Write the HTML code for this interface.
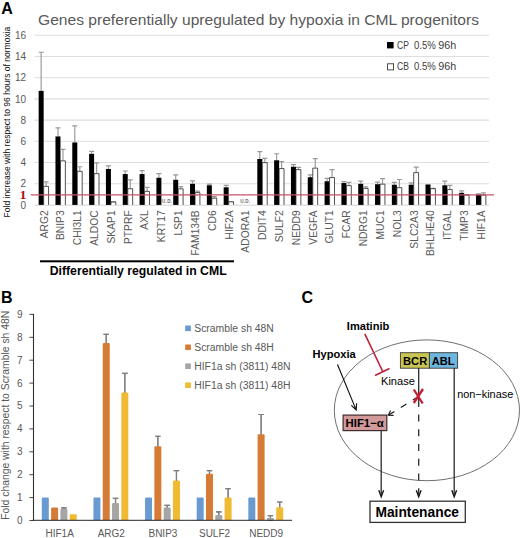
<!DOCTYPE html>
<html><head><meta charset="utf-8"><title>Figure</title>
<style>
html,body{margin:0;padding:0;background:#fff;}
body{width:520px;height:538px;overflow:hidden;font-family:"Liberation Sans",sans-serif;}
svg{display:block;font-family:"Liberation Sans",sans-serif;}
</style></head><body>
<svg width="520" height="538" viewBox="0 0 520 538">
<rect width="520" height="538" fill="#fff"/>
<g id="panelA">
<line x1="34.5" x2="489" y1="205.20" y2="205.20" stroke="#cfcfcf" stroke-width="0.9"/>
<line x1="34.5" x2="489" y1="183.70" y2="183.70" stroke="#dedede" stroke-width="1.1"/>
<line x1="34.5" x2="489" y1="162.50" y2="162.50" stroke="#dedede" stroke-width="1.1"/>
<line x1="34.5" x2="489" y1="141.30" y2="141.30" stroke="#dedede" stroke-width="1.1"/>
<line x1="34.5" x2="489" y1="120.10" y2="120.10" stroke="#dedede" stroke-width="1.1"/>
<line x1="34.5" x2="489" y1="98.90" y2="98.90" stroke="#dedede" stroke-width="1.1"/>
<line x1="34.5" x2="489" y1="77.70" y2="77.70" stroke="#dedede" stroke-width="1.1"/>
<line x1="34.5" x2="489" y1="56.50" y2="56.50" stroke="#dedede" stroke-width="1.1"/>
<line x1="34.5" x2="489" y1="35.30" y2="35.30" stroke="#dedede" stroke-width="1.1"/>
<text transform="translate(26.10 208.55) scale(1 1)" text-anchor="end" font-size="10" fill="#595959">0</text>
<text transform="translate(26.10 187.35) scale(1 1)" text-anchor="end" font-size="10" fill="#595959">2</text>
<text transform="translate(26.10 166.15) scale(1 1)" text-anchor="end" font-size="10" fill="#595959">4</text>
<text transform="translate(26.10 144.95) scale(1 1)" text-anchor="end" font-size="10" fill="#595959">6</text>
<text transform="translate(26.10 123.75) scale(1 1)" text-anchor="end" font-size="10" fill="#595959">8</text>
<text transform="translate(26.10 102.55) scale(1 1)" text-anchor="end" font-size="10" fill="#595959">10</text>
<text transform="translate(26.10 81.35) scale(1 1)" text-anchor="end" font-size="10" fill="#595959">12</text>
<text transform="translate(26.10 60.15) scale(1 1)" text-anchor="end" font-size="10" fill="#595959">14</text>
<text transform="translate(26.10 38.95) scale(1 1)" text-anchor="end" font-size="10" fill="#595959">16</text>
<path d="M41.15 90.84V52.26M38.65 52.26h5" stroke="#999" stroke-width="1.15" fill="none"/>
<rect x="38.65" y="90.84" width="5.0" height="114.06" fill="#000"/>
<path d="M46.15 186.03V181.90M43.65 181.90h5" stroke="#999" stroke-width="1.15" fill="none"/>
<path d="M43.65 204.9V186.38H48.55V204.9" fill="#fff" stroke="#1a1a1a" stroke-width="0.75"/>
<text transform="translate(47.55 210.3) rotate(-90)" text-anchor="end" font-size="10.3" fill="#595959">ARG2</text>
<path d="M57.97 136.42V127.94M55.47 127.94h5" stroke="#999" stroke-width="1.15" fill="none"/>
<rect x="55.47" y="136.42" width="5.0" height="68.48" fill="#000"/>
<path d="M62.97 160.49V149.36M60.47 149.36h5" stroke="#999" stroke-width="1.15" fill="none"/>
<path d="M60.47 204.9V160.84H65.37V204.9" fill="#fff" stroke="#1a1a1a" stroke-width="0.75"/>
<text transform="translate(64.37 210.3) rotate(-90)" text-anchor="end" font-size="10.3" fill="#595959">BNIP3</text>
<path d="M74.79 142.47V125.93M72.29 125.93h5" stroke="#999" stroke-width="1.15" fill="none"/>
<rect x="72.29" y="142.47" width="5.0" height="62.43" fill="#000"/>
<path d="M79.79 170.98V166.74M77.29 166.74h5" stroke="#999" stroke-width="1.15" fill="none"/>
<path d="M77.29 204.9V171.33H82.19V204.9" fill="#fff" stroke="#1a1a1a" stroke-width="0.75"/>
<text transform="translate(81.19 210.3) rotate(-90)" text-anchor="end" font-size="10.3" fill="#595959">CHI3L1</text>
<path d="M91.61 153.81V151.37M89.11 151.37h5" stroke="#999" stroke-width="1.15" fill="none"/>
<rect x="89.11" y="153.81" width="5.0" height="51.09" fill="#000"/>
<path d="M96.61 173.31V162.92M94.11 162.92h5" stroke="#999" stroke-width="1.15" fill="none"/>
<path d="M94.11 204.9V173.66H99.01V204.9" fill="#fff" stroke="#1a1a1a" stroke-width="0.75"/>
<text transform="translate(98.01 210.3) rotate(-90)" text-anchor="end" font-size="10.3" fill="#595959">ALDOC</text>
<path d="M108.43 168.97V165.89M105.93 165.89h5" stroke="#999" stroke-width="1.15" fill="none"/>
<rect x="105.93" y="168.97" width="5.0" height="35.93" fill="#000"/>
<path d="M113.43 201.72V201.72M110.93 201.72h5" stroke="#999" stroke-width="1.15" fill="none"/>
<path d="M110.93 204.9V202.07H115.83V204.9" fill="#fff" stroke="#1a1a1a" stroke-width="0.75"/>
<text transform="translate(114.83 210.3) rotate(-90)" text-anchor="end" font-size="10.3" fill="#595959">SKAP1</text>
<path d="M125.25 174.05V170.98M122.75 170.98h5" stroke="#999" stroke-width="1.15" fill="none"/>
<rect x="122.75" y="174.05" width="5.0" height="30.85" fill="#000"/>
<path d="M130.25 188.36V179.88M127.75 179.88h5" stroke="#999" stroke-width="1.15" fill="none"/>
<path d="M127.75 204.9V188.71H132.65V204.9" fill="#fff" stroke="#1a1a1a" stroke-width="0.75"/>
<text transform="translate(131.65 210.3) rotate(-90)" text-anchor="end" font-size="10.3" fill="#595959">PTPRF</text>
<path d="M142.07 174.05V170.66M139.57 170.66h5" stroke="#999" stroke-width="1.15" fill="none"/>
<rect x="139.57" y="174.05" width="5.0" height="30.85" fill="#000"/>
<path d="M147.07 191.01V187.41M144.57 187.41h5" stroke="#999" stroke-width="1.15" fill="none"/>
<path d="M144.57 204.9V191.36H149.47V204.9" fill="#fff" stroke="#1a1a1a" stroke-width="0.75"/>
<text transform="translate(148.47 210.3) rotate(-90)" text-anchor="end" font-size="10.3" fill="#595959">AXL</text>
<path d="M158.89 177.76V173.63M156.39 173.63h5" stroke="#999" stroke-width="1.15" fill="none"/>
<rect x="156.39" y="177.76" width="5.0" height="27.14" fill="#000"/>
<text transform="translate(165.29 210.3) rotate(-90)" text-anchor="end" font-size="10.3" fill="#595959">KRT17</text>
<path d="M175.71 179.78V174.90M173.21 174.90h5" stroke="#999" stroke-width="1.15" fill="none"/>
<rect x="173.21" y="179.78" width="5.0" height="25.12" fill="#000"/>
<path d="M180.71 188.47V186.67M178.21 186.67h5" stroke="#999" stroke-width="1.15" fill="none"/>
<path d="M178.21 204.9V188.82H183.11V204.9" fill="#fff" stroke="#1a1a1a" stroke-width="0.75"/>
<text transform="translate(182.11 210.3) rotate(-90)" text-anchor="end" font-size="10.3" fill="#595959">LSP1</text>
<path d="M192.53 183.81V180.94M190.03 180.94h5" stroke="#999" stroke-width="1.15" fill="none"/>
<rect x="190.03" y="183.81" width="5.0" height="21.09" fill="#000"/>
<path d="M197.53 192.29V191.12M195.03 191.12h5" stroke="#999" stroke-width="1.15" fill="none"/>
<path d="M195.03 204.9V192.64H199.93V204.9" fill="#fff" stroke="#1a1a1a" stroke-width="0.75"/>
<text transform="translate(198.93 210.3) rotate(-90)" text-anchor="end" font-size="10.3" fill="#595959">FAM134B</text>
<path d="M209.35 185.29V184.12M206.85 184.12h5" stroke="#999" stroke-width="1.15" fill="none"/>
<rect x="206.85" y="185.29" width="5.0" height="19.61" fill="#000"/>
<path d="M214.35 197.80V196.63M211.85 196.63h5" stroke="#999" stroke-width="1.15" fill="none"/>
<path d="M211.85 204.9V198.15H216.75V204.9" fill="#fff" stroke="#1a1a1a" stroke-width="0.75"/>
<text transform="translate(215.75 210.3) rotate(-90)" text-anchor="end" font-size="10.3" fill="#595959">CD6</text>
<path d="M226.17 187.30V185.40M223.67 185.40h5" stroke="#999" stroke-width="1.15" fill="none"/>
<rect x="223.67" y="187.30" width="5.0" height="17.60" fill="#000"/>
<path d="M231.17 201.51V201.72M228.67 201.72h5" stroke="#999" stroke-width="1.15" fill="none"/>
<path d="M228.67 204.9V201.86H233.57V204.9" fill="#fff" stroke="#1a1a1a" stroke-width="0.75"/>
<text transform="translate(232.57 210.3) rotate(-90)" text-anchor="end" font-size="10.3" fill="#595959">HIF2A</text>
<text transform="translate(249.39 210.3) rotate(-90)" text-anchor="end" font-size="10.3" fill="#595959">ADORA1</text>
<path d="M259.81 159.00V151.69M257.31 151.69h5" stroke="#999" stroke-width="1.15" fill="none"/>
<rect x="257.31" y="159.00" width="5.0" height="45.90" fill="#000"/>
<path d="M264.81 162.29V158.37M262.31 158.37h5" stroke="#999" stroke-width="1.15" fill="none"/>
<path d="M262.31 204.9V162.64H267.21V204.9" fill="#fff" stroke="#1a1a1a" stroke-width="0.75"/>
<text transform="translate(266.21 210.3) rotate(-90)" text-anchor="end" font-size="10.3" fill="#595959">DDIT4</text>
<path d="M276.63 160.27V153.70M274.13 153.70h5" stroke="#999" stroke-width="1.15" fill="none"/>
<rect x="274.13" y="160.27" width="5.0" height="44.63" fill="#000"/>
<path d="M281.63 168.22V161.65M279.13 161.65h5" stroke="#999" stroke-width="1.15" fill="none"/>
<path d="M279.13 204.9V168.57H284.03V204.9" fill="#fff" stroke="#1a1a1a" stroke-width="0.75"/>
<text transform="translate(283.03 210.3) rotate(-90)" text-anchor="end" font-size="10.3" fill="#595959">SULF2</text>
<path d="M293.45 166.74V164.62M290.95 164.62h5" stroke="#999" stroke-width="1.15" fill="none"/>
<rect x="290.95" y="166.74" width="5.0" height="38.16" fill="#000"/>
<path d="M298.45 169.28V167.38M295.95 167.38h5" stroke="#999" stroke-width="1.15" fill="none"/>
<path d="M295.95 204.9V169.63H300.85V204.9" fill="#fff" stroke="#1a1a1a" stroke-width="0.75"/>
<text transform="translate(299.85 210.3) rotate(-90)" text-anchor="end" font-size="10.3" fill="#595959">NEDD9</text>
<path d="M310.27 177.23V174.90M307.77 174.90h5" stroke="#999" stroke-width="1.15" fill="none"/>
<rect x="307.77" y="177.23" width="5.0" height="27.67" fill="#000"/>
<path d="M315.27 167.80V158.68M312.77 158.68h5" stroke="#999" stroke-width="1.15" fill="none"/>
<path d="M312.77 204.9V168.15H317.67V204.9" fill="#fff" stroke="#1a1a1a" stroke-width="0.75"/>
<text transform="translate(316.67 210.3) rotate(-90)" text-anchor="end" font-size="10.3" fill="#595959">VEGFA</text>
<path d="M327.09 181.26V178.40M324.59 178.40h5" stroke="#999" stroke-width="1.15" fill="none"/>
<rect x="324.59" y="181.26" width="5.0" height="23.64" fill="#000"/>
<path d="M332.09 177.23V169.60M329.59 169.60h5" stroke="#999" stroke-width="1.15" fill="none"/>
<path d="M329.59 204.9V177.58H334.49V204.9" fill="#fff" stroke="#1a1a1a" stroke-width="0.75"/>
<text transform="translate(333.49 210.3) rotate(-90)" text-anchor="end" font-size="10.3" fill="#595959">GLUT1</text>
<path d="M343.91 183.06V181.69M341.41 181.69h5" stroke="#999" stroke-width="1.15" fill="none"/>
<rect x="341.41" y="183.06" width="5.0" height="21.84" fill="#000"/>
<path d="M348.91 185.29V182.43M346.41 182.43h5" stroke="#999" stroke-width="1.15" fill="none"/>
<path d="M346.41 204.9V185.64H351.31V204.9" fill="#fff" stroke="#1a1a1a" stroke-width="0.75"/>
<text transform="translate(350.31 210.3) rotate(-90)" text-anchor="end" font-size="10.3" fill="#595959">FCAR</text>
<path d="M360.73 183.81V181.16M358.23 181.16h5" stroke="#999" stroke-width="1.15" fill="none"/>
<rect x="358.23" y="183.81" width="5.0" height="21.09" fill="#000"/>
<path d="M365.73 188.05V186.88M363.23 186.88h5" stroke="#999" stroke-width="1.15" fill="none"/>
<path d="M363.23 204.9V188.40H368.13V204.9" fill="#fff" stroke="#1a1a1a" stroke-width="0.75"/>
<text transform="translate(367.13 210.3) rotate(-90)" text-anchor="end" font-size="10.3" fill="#595959">NDRG1</text>
<path d="M377.55 184.23V182.11M375.05 182.11h5" stroke="#999" stroke-width="1.15" fill="none"/>
<rect x="375.05" y="184.23" width="5.0" height="20.67" fill="#000"/>
<path d="M382.55 183.81V178.61M380.05 178.61h5" stroke="#999" stroke-width="1.15" fill="none"/>
<path d="M380.05 204.9V184.16H384.95V204.9" fill="#fff" stroke="#1a1a1a" stroke-width="0.75"/>
<text transform="translate(383.95 210.3) rotate(-90)" text-anchor="end" font-size="10.3" fill="#595959">MUC1</text>
<path d="M394.37 184.76V182.43M391.87 182.43h5" stroke="#999" stroke-width="1.15" fill="none"/>
<rect x="391.87" y="184.76" width="5.0" height="20.14" fill="#000"/>
<path d="M399.37 187.30V179.46M396.87 179.46h5" stroke="#999" stroke-width="1.15" fill="none"/>
<path d="M396.87 204.9V187.65H401.77V204.9" fill="#fff" stroke="#1a1a1a" stroke-width="0.75"/>
<text transform="translate(400.77 210.3) rotate(-90)" text-anchor="end" font-size="10.3" fill="#595959">NOL3</text>
<path d="M411.19 184.76V182.85M408.69 182.85h5" stroke="#999" stroke-width="1.15" fill="none"/>
<rect x="408.69" y="184.76" width="5.0" height="20.14" fill="#000"/>
<path d="M416.19 172.25V167.16M413.69 167.16h5" stroke="#999" stroke-width="1.15" fill="none"/>
<path d="M413.69 204.9V172.60H418.59V204.9" fill="#fff" stroke="#1a1a1a" stroke-width="0.75"/>
<text transform="translate(417.59 210.3) rotate(-90)" text-anchor="end" font-size="10.3" fill="#595959">SLC2A3</text>
<path d="M428.01 184.76V184.55M425.51 184.55h5" stroke="#999" stroke-width="1.15" fill="none"/>
<rect x="425.51" y="184.76" width="5.0" height="20.14" fill="#000"/>
<path d="M433.01 188.36V188.36M430.51 188.36h5" stroke="#999" stroke-width="1.15" fill="none"/>
<path d="M430.51 204.9V188.71H435.41V204.9" fill="#fff" stroke="#1a1a1a" stroke-width="0.75"/>
<text transform="translate(434.41 210.3) rotate(-90)" text-anchor="end" font-size="10.3" fill="#595959">BHLHE40</text>
<path d="M444.83 185.29V181.16M442.33 181.16h5" stroke="#999" stroke-width="1.15" fill="none"/>
<rect x="442.33" y="185.29" width="5.0" height="19.61" fill="#000"/>
<path d="M449.83 189.21V185.40M447.33 185.40h5" stroke="#999" stroke-width="1.15" fill="none"/>
<path d="M447.33 204.9V189.56H452.23V204.9" fill="#fff" stroke="#1a1a1a" stroke-width="0.75"/>
<text transform="translate(451.23 210.3) rotate(-90)" text-anchor="end" font-size="10.3" fill="#595959">ITGAL</text>
<path d="M461.65 192.82V190.91M459.15 190.91h5" stroke="#999" stroke-width="1.15" fill="none"/>
<rect x="459.15" y="192.82" width="5.0" height="12.08" fill="#000"/>
<path d="M466.65 194.72V194.72M464.15 194.72h5" stroke="#999" stroke-width="1.15" fill="none"/>
<path d="M464.15 204.9V195.07H469.05V204.9" fill="#fff" stroke="#1a1a1a" stroke-width="0.75"/>
<text transform="translate(468.05 210.3) rotate(-90)" text-anchor="end" font-size="10.3" fill="#595959">TIMP3</text>
<path d="M478.47 194.72V193.88M475.97 193.88h5" stroke="#999" stroke-width="1.15" fill="none"/>
<rect x="475.97" y="194.72" width="5.0" height="10.18" fill="#000"/>
<path d="M483.47 194.72V192.92M480.97 192.92h5" stroke="#999" stroke-width="1.15" fill="none"/>
<path d="M480.97 204.9V195.07H485.87V204.9" fill="#fff" stroke="#1a1a1a" stroke-width="0.75"/>
<text transform="translate(484.87 210.3) rotate(-90)" text-anchor="end" font-size="10.3" fill="#595959">HIF1A</text>
<line x1="30.8" x2="494" y1="194.80" y2="194.80" stroke="#c4546a" stroke-width="1.3"/>
<text x="162" y="203.2" font-size="4.6" font-weight="bold" fill="#666" textLength="10" lengthAdjust="spacing">U.D.</text>
<text x="240.2" y="203.2" font-size="4.6" font-weight="bold" fill="#666" textLength="10" lengthAdjust="spacing">U.D.</text>
<text transform="translate(26.5 198.7) scale(1.2 1)" text-anchor="end" font-family="Liberation Serif, serif" font-weight="bold" font-size="11.8" fill="#b0101c">1</text>
<text x="38" y="25" font-size="14.3" fill="#595959" textLength="441" lengthAdjust="spacingAndGlyphs">Genes preferentially upregulated by hypoxia in CML progenitors</text>
<text x="1.3" y="13.6" font-size="16" font-weight="bold" fill="#000">A</text>
<text transform="translate(10.3 217.4) rotate(-90)" font-size="8.5" fill="#111" textLength="190.7" lengthAdjust="spacingAndGlyphs">Fold increase with respect to 96 hours of normoxia</text>
<rect x="387" y="42" width="6.6" height="6.4" fill="#000"/>
<rect x="387.6" y="63.8" width="6" height="6.1" fill="#fff" stroke="#222" stroke-width="0.8"/>
<text x="397.1" y="48.6" font-size="10.2" fill="#404040" textLength="11.9" lengthAdjust="spacingAndGlyphs">CP</text>
<text x="414" y="48.6" font-size="10.2" fill="#404040" textLength="21.9" lengthAdjust="spacingAndGlyphs">0.5%</text>
<text x="438.2" y="48.6" font-size="10.2" fill="#404040" textLength="18" lengthAdjust="spacingAndGlyphs">96h</text>
<text x="397.1" y="69.9" font-size="10.2" fill="#404040" textLength="11.9" lengthAdjust="spacingAndGlyphs">CB</text>
<text x="414" y="69.9" font-size="10.2" fill="#404040" textLength="21.9" lengthAdjust="spacingAndGlyphs">0.5%</text>
<text x="438.2" y="69.9" font-size="10.2" fill="#404040" textLength="18" lengthAdjust="spacingAndGlyphs">96h</text>
<rect x="40" y="260.3" width="194" height="2" fill="#000"/>
<text x="49.7" y="274.6" font-size="12.25" font-weight="bold" fill="#000">Differentially regulated in CML</text>
</g>
<g id="panelB">
<text x="1.0" y="302.5" font-size="16" font-weight="bold" fill="#000">B</text>
<text transform="translate(9 519.8) rotate(-90)" font-size="10.37" fill="#595959">Fold change with respect to Scramble sh 48N</text>
<text transform="translate(22.60 523.90) scale(1 1)" text-anchor="end" font-size="10" fill="#595959">0</text>
<line x1="29.4" x2="33.5" y1="520.50" y2="520.50" stroke="#333" stroke-width="0.9"/>
<text transform="translate(22.60 501.00) scale(1 1)" text-anchor="end" font-size="10" fill="#595959">1</text>
<line x1="29.4" x2="33.5" y1="497.60" y2="497.60" stroke="#333" stroke-width="0.9"/>
<text transform="translate(22.60 478.10) scale(1 1)" text-anchor="end" font-size="10" fill="#595959">2</text>
<line x1="29.4" x2="33.5" y1="474.70" y2="474.70" stroke="#333" stroke-width="0.9"/>
<text transform="translate(22.60 455.20) scale(1 1)" text-anchor="end" font-size="10" fill="#595959">3</text>
<line x1="29.4" x2="33.5" y1="451.80" y2="451.80" stroke="#333" stroke-width="0.9"/>
<text transform="translate(22.60 432.30) scale(1 1)" text-anchor="end" font-size="10" fill="#595959">4</text>
<line x1="29.4" x2="33.5" y1="428.90" y2="428.90" stroke="#333" stroke-width="0.9"/>
<text transform="translate(22.60 409.40) scale(1 1)" text-anchor="end" font-size="10" fill="#595959">5</text>
<line x1="29.4" x2="33.5" y1="406.00" y2="406.00" stroke="#333" stroke-width="0.9"/>
<text transform="translate(22.60 386.50) scale(1 1)" text-anchor="end" font-size="10" fill="#595959">6</text>
<line x1="29.4" x2="33.5" y1="383.10" y2="383.10" stroke="#333" stroke-width="0.9"/>
<text transform="translate(22.60 363.60) scale(1 1)" text-anchor="end" font-size="10" fill="#595959">7</text>
<line x1="29.4" x2="33.5" y1="360.20" y2="360.20" stroke="#333" stroke-width="0.9"/>
<text transform="translate(22.60 340.70) scale(1 1)" text-anchor="end" font-size="10" fill="#595959">8</text>
<line x1="29.4" x2="33.5" y1="337.30" y2="337.30" stroke="#333" stroke-width="0.9"/>
<text transform="translate(22.60 317.80) scale(1 1)" text-anchor="end" font-size="10" fill="#595959">9</text>
<line x1="29.4" x2="33.5" y1="314.40" y2="314.40" stroke="#333" stroke-width="0.9"/>
<path d="M41.80 520.3V498.60q0 -1.2 1.2 -1.2h4.60q1.2 0 1.2 1.2V520.3z" fill="#6a9ad2"/>
<path d="M51.10 520.3V508.68q0 -1.2 1.2 -1.2h4.60q1.2 0 1.2 1.2V520.3z" fill="#d67b35"/>
<path d="M63.90 509.77V507.93M61.20 507.93h5.4M61.20 509.77h5.4" stroke="#7f7f7f" stroke-width="1.2" fill="none"/>
<path d="M60.40 520.3V510.05q0 -1.2 1.2 -1.2h4.60q1.2 0 1.2 1.2V520.3z" fill="#a5a5a5"/>
<path d="M63.90 508.85V507.93M61.20 507.93h5.4" stroke="#7f7f7f" stroke-width="1.2" fill="none"/>
<path d="M69.70 520.3V515.55q0 -1.2 1.2 -1.2h4.60q1.2 0 1.2 1.2V520.3z" fill="#f0ba32"/>
<text transform="translate(59.65 536.60) scale(1 1)" text-anchor="middle" font-size="10" fill="#595959">HIF1A</text>
<path d="M93.43 520.3V498.60q0 -1.2 1.2 -1.2h4.60q1.2 0 1.2 1.2V520.3z" fill="#6a9ad2"/>
<path d="M106.23 351.76V334.35M103.53 334.35h5.4M103.53 351.76h5.4" stroke="#7f7f7f" stroke-width="1.2" fill="none"/>
<path d="M102.73 520.3V344.25q0 -1.2 1.2 -1.2h4.60q1.2 0 1.2 1.2V520.3z" fill="#d67b35"/>
<path d="M106.23 343.05V334.35M103.53 334.35h5.4" stroke="#7f7f7f" stroke-width="1.2" fill="none"/>
<path d="M115.53 507.70V498.32M112.83 498.32h5.4M112.83 507.70h5.4" stroke="#7f7f7f" stroke-width="1.2" fill="none"/>
<path d="M112.03 520.3V504.21q0 -1.2 1.2 -1.2h4.60q1.2 0 1.2 1.2V520.3z" fill="#a5a5a5"/>
<path d="M115.53 503.01V498.32M112.83 498.32h5.4" stroke="#7f7f7f" stroke-width="1.2" fill="none"/>
<path d="M124.83 411.75V373.28M122.13 373.28h5.4M122.13 411.75h5.4" stroke="#7f7f7f" stroke-width="1.2" fill="none"/>
<path d="M121.33 520.3V393.72q0 -1.2 1.2 -1.2h4.60q1.2 0 1.2 1.2V520.3z" fill="#f0ba32"/>
<path d="M124.83 392.52V373.28M122.13 373.28h5.4" stroke="#7f7f7f" stroke-width="1.2" fill="none"/>
<text transform="translate(111.28 536.60) scale(1 1)" text-anchor="middle" font-size="10" fill="#595959">ARG2</text>
<path d="M145.06 520.3V498.60q0 -1.2 1.2 -1.2h4.60q1.2 0 1.2 1.2V520.3z" fill="#6a9ad2"/>
<path d="M157.86 456.41V436.26M155.16 436.26h5.4M155.16 456.41h5.4" stroke="#7f7f7f" stroke-width="1.2" fill="none"/>
<path d="M154.36 520.3V447.53q0 -1.2 1.2 -1.2h4.60q1.2 0 1.2 1.2V520.3z" fill="#d67b35"/>
<path d="M157.86 446.33V436.26M155.16 436.26h5.4" stroke="#7f7f7f" stroke-width="1.2" fill="none"/>
<path d="M167.16 509.54V505.41M164.46 505.41h5.4M164.46 509.54h5.4" stroke="#7f7f7f" stroke-width="1.2" fill="none"/>
<path d="M163.66 520.3V508.68q0 -1.2 1.2 -1.2h4.60q1.2 0 1.2 1.2V520.3z" fill="#a5a5a5"/>
<path d="M167.16 507.48V505.41M164.46 505.41h5.4" stroke="#7f7f7f" stroke-width="1.2" fill="none"/>
<path d="M176.46 490.30V470.61M173.76 470.61h5.4M173.76 490.30h5.4" stroke="#7f7f7f" stroke-width="1.2" fill="none"/>
<path d="M172.96 520.3V481.65q0 -1.2 1.2 -1.2h4.60q1.2 0 1.2 1.2V520.3z" fill="#f0ba32"/>
<path d="M176.46 480.45V470.61M173.76 470.61h5.4" stroke="#7f7f7f" stroke-width="1.2" fill="none"/>
<text transform="translate(162.91 536.60) scale(1 1)" text-anchor="middle" font-size="10" fill="#595959">BNIP3</text>
<path d="M196.69 520.3V498.60q0 -1.2 1.2 -1.2h4.60q1.2 0 1.2 1.2V520.3z" fill="#6a9ad2"/>
<path d="M209.49 477.02V470.61M206.79 470.61h5.4M206.79 477.02h5.4" stroke="#7f7f7f" stroke-width="1.2" fill="none"/>
<path d="M205.99 520.3V475.01q0 -1.2 1.2 -1.2h4.60q1.2 0 1.2 1.2V520.3z" fill="#d67b35"/>
<path d="M209.49 473.81V470.61M206.79 470.61h5.4" stroke="#7f7f7f" stroke-width="1.2" fill="none"/>
<path d="M218.79 518.24V511.83M216.09 511.83h5.4M216.09 518.24h5.4" stroke="#7f7f7f" stroke-width="1.2" fill="none"/>
<path d="M215.29 520.3V516.23q0 -1.2 1.2 -1.2h4.60q1.2 0 1.2 1.2V520.3z" fill="#a5a5a5"/>
<path d="M218.79 515.03V511.83M216.09 511.83h5.4" stroke="#7f7f7f" stroke-width="1.2" fill="none"/>
<path d="M228.09 506.10V488.70M225.39 488.70h5.4M225.39 506.10h5.4" stroke="#7f7f7f" stroke-width="1.2" fill="none"/>
<path d="M224.59 520.3V498.60q0 -1.2 1.2 -1.2h4.60q1.2 0 1.2 1.2V520.3z" fill="#f0ba32"/>
<path d="M228.09 497.40V488.70M225.39 488.70h5.4" stroke="#7f7f7f" stroke-width="1.2" fill="none"/>
<text transform="translate(214.54 536.60) scale(1 1)" text-anchor="middle" font-size="10" fill="#595959">SULF2</text>
<path d="M248.32 520.3V498.60q0 -1.2 1.2 -1.2h4.60q1.2 0 1.2 1.2V520.3z" fill="#6a9ad2"/>
<path d="M261.12 453.89V414.50M258.42 414.50h5.4M258.42 453.89h5.4" stroke="#7f7f7f" stroke-width="1.2" fill="none"/>
<path d="M257.62 520.3V435.40q0 -1.2 1.2 -1.2h4.60q1.2 0 1.2 1.2V520.3z" fill="#d67b35"/>
<path d="M261.12 434.20V414.50M258.42 414.50h5.4" stroke="#7f7f7f" stroke-width="1.2" fill="none"/>
<path d="M270.42 520.30V515.72M267.72 515.72h5.4M267.72 520.30h5.4" stroke="#7f7f7f" stroke-width="1.2" fill="none"/>
<path d="M266.92 520.3V518.51q0 -0.5 0.5 -0.5h6.00q0.5 0 0.5 0.5V520.3z" fill="#a5a5a5"/>
<path d="M270.42 518.01V515.72M267.72 515.72h5.4" stroke="#7f7f7f" stroke-width="1.2" fill="none"/>
<path d="M279.72 512.51V501.98M277.02 501.98h5.4M277.02 512.51h5.4" stroke="#7f7f7f" stroke-width="1.2" fill="none"/>
<path d="M276.22 520.3V508.45q0 -1.2 1.2 -1.2h4.60q1.2 0 1.2 1.2V520.3z" fill="#f0ba32"/>
<path d="M279.72 507.25V501.98M277.02 501.98h5.4" stroke="#7f7f7f" stroke-width="1.2" fill="none"/>
<text transform="translate(266.17 536.60) scale(1 1)" text-anchor="middle" font-size="10" fill="#595959">NEDD9</text>
<line x1="33.5" x2="33.5" y1="313.80" y2="520.8" stroke="#333" stroke-width="1.1"/>
<line x1="32.7" x2="292" y1="520.3" y2="520.3" stroke="#262626" stroke-width="1"/>
<rect x="185.2" y="325.50" width="5.7" height="5.6" fill="#6a9ad2"/>
<text transform="translate(194.20 331.80) scale(1.04 1)" text-anchor="start" font-size="10" fill="#595959">Scramble sh 48N</text>
<rect x="185.2" y="344.47" width="5.7" height="5.6" fill="#d67b35"/>
<text transform="translate(194.20 350.77) scale(1.04 1)" text-anchor="start" font-size="10" fill="#595959">Scramble sh 48H</text>
<rect x="185.2" y="363.44" width="5.7" height="5.6" fill="#a5a5a5"/>
<text transform="translate(194.20 369.74) scale(1.04 1)" text-anchor="start" font-size="10" fill="#595959">HIF1a sh (3811) 48N</text>
<rect x="185.2" y="382.41" width="5.7" height="5.6" fill="#f0ba32"/>
<text transform="translate(194.20 388.71) scale(1.04 1)" text-anchor="start" font-size="10" fill="#595959">HIF1a sh (3811) 48H</text>
</g>
<g id="panelC">
<text x="301.6" y="302.5" font-size="16" font-weight="bold" fill="#000">C</text>
<ellipse cx="426.9" cy="410.3" rx="92.6" ry="70.4" fill="none" stroke="#707070" stroke-width="1"/>
<text x="346.8" y="330" font-size="11.1" font-weight="bold" fill="#000">Imatinib</text>
<text x="312.6" y="358.3" font-size="11.1" font-weight="bold" fill="#000">Hypoxia</text>
<text x="381" y="385.2" font-size="11.1" fill="#000">Kinase</text>
<text x="457.2" y="397.5" font-size="10.9" fill="#000">non−kinase</text>
<path d="M364.8 333.8L382.5 371M375 375.5L389.5 368.5" stroke="#bf2038" stroke-width="1.6" fill="none"/>
<path d="M337.5 364.5L356 409.6M351.3 405.4L356.2 410L356.6 403.3" stroke="#111" stroke-width="1.15" fill="none" stroke-linejoin="miter"/>
<rect x="400.4" y="352.7" width="29" height="15.5" fill="#c9c553" stroke="#3a3a3a" stroke-width="0.9"/>
<rect x="429.4" y="352.7" width="28.2" height="15.5" fill="#6db7de" stroke="#3a3a3a" stroke-width="0.9"/>
<text x="403" y="365" font-size="11.2" font-weight="bold" fill="#000">BCR</text>
<text x="431.8" y="365" font-size="11.1" font-weight="bold" fill="#000">ABL</text>
<path d="M418.7 368V407" stroke="#2b2b2b" stroke-width="1.3" fill="none"/>
<path d="M418.7 414.5V496" stroke="#2b2b2b" stroke-width="1.3" stroke-dasharray="7 7.75" fill="none"/>
<path d="M454.2 368V495.8" stroke="#2b2b2b" stroke-width="1.3" fill="none"/>
<path d="M381.2 431V495.8" stroke="#2b2b2b" stroke-width="1.3" fill="none"/>
<path d="M378.8 490.2L381.2 496.8L383.6 490.2" stroke="#1a1a1a" stroke-width="1.4" fill="none"/>
<path d="M416.3 490.2L418.7 496.8L421.1 490.2" stroke="#1a1a1a" stroke-width="1.4" fill="none"/>
<path d="M451.8 490.2L454.2 496.8L456.6 490.2" stroke="#1a1a1a" stroke-width="1.4" fill="none"/>
<path d="M418.5 396.5L388.6 415" stroke="#1a1a1a" stroke-width="1.25" stroke-dasharray="6.6 7.6" fill="none"/>
<path d="M390.6 410.6L388.3 415.2L393.6 415.4" stroke="#1a1a1a" stroke-width="1.15" fill="none"/>
<path d="M413.8 389.5L422.7 403.5M423 389L413.8 403" stroke="#c41f30" stroke-width="2.3" fill="none"/>
<rect x="343.1" y="415.1" width="43.7" height="15.5" fill="#d29a9a" stroke="#3f2c2c" stroke-width="1.2"/>
<text x="345.6" y="427" font-size="11" font-weight="bold" fill="#000" textLength="38.2" lengthAdjust="spacingAndGlyphs">HIF1−α</text>
<rect x="370" y="501.2" width="95.3" height="21.2" fill="#fff" stroke="#333" stroke-width="1.3"/>
<text x="375.4" y="516.8" font-size="14.1" font-weight="bold" fill="#000" textLength="83.6" lengthAdjust="spacingAndGlyphs">Maintenance</text>
</g>
</svg>
</body></html>
